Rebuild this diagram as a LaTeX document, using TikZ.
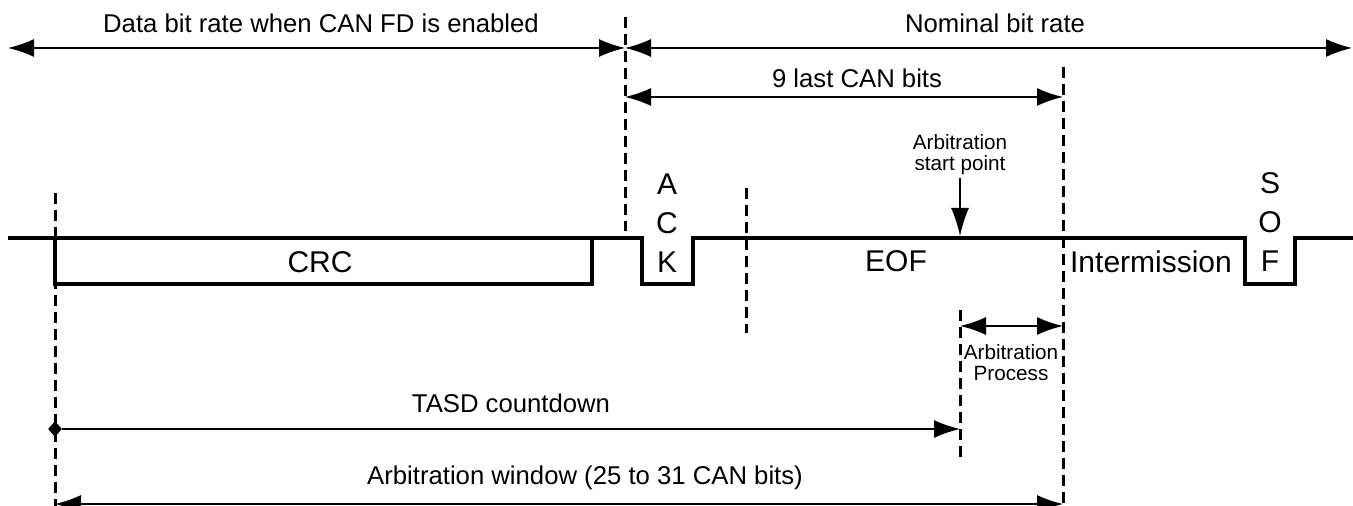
\documentclass[tikz,border=0pt]{standalone}
\usepackage{fontspec}
\setmainfont{Liberation Sans}
\usetikzlibrary{arrows.meta,shapes.geometric}

\begin{document}
\begin{tikzpicture}[x=.5pt,y=-.5pt,>={Latex[length=13pt,width=9pt]}]
      \tikzstyle{lbl}=[font=\fontsize{12.85}{15}\selectfont,anchor=base,inner sep=0pt]
      \tikzstyle{field}=[font=\fontsize{15}{19.5}\selectfont,align=center,inner sep=0pt]
      \tikzstyle{small}=[font=\fontsize{10.35}{10.5}\selectfont,align=center,inner sep=1.5pt]
      \tikzstyle{guide}=[line width=1.5pt,dash pattern=on 5.5pt off 3pt]
      \tikzstyle{dim}=[line width=.8pt,<->]
      \useasboundingbox (0,0) rectangle (1353,506);
      % guide lines
      \coordinate (crcT) at (55,193);   \coordinate (crcB) at (55,506);
      \coordinate (fdT) at (625,17);    \coordinate (fdB) at (625,231);
      \coordinate (ackT) at (746,188);  \coordinate (ackB) at (746,333);
      \coordinate (arbT) at (960,310);  \coordinate (arbB) at (960,462);
      \coordinate (eofT) at (1063,67);  \coordinate (eofB) at (1063,506);
      \draw[guide] (crcT) -- (crcB);
      \draw[guide] (fdT) -- (fdB);
      \draw[guide] (ackT) -- (ackB);
      \draw[guide] (arbT) -- (arbB);
      \draw[guide] (eofT) -- (eofB);
      % bus signal
      \draw[line width=1.6pt] (8,238) -- (642,238) -- (642,284) -- (693,284) -- (693,238)
            -- (1245,238) -- (1245,284) -- (1295,284) -- (1295,238) -- (1353,238);
      \draw[line width=1.6pt] (55,238) rectangle (592,284);
      \node[field] (crc) at (320,262) {CRC};
      \node[field] (ack) at (667,223) {A\\C\\K};
      \node[field] (eof) at (896,261) {EOF};
      \node[field] (im) at (1151,262) {Intermission};
      \node[field] (sof) at (1270,222) {S\\O\\F};
      % rates
      \node[lbl] (dbr) at (321,33) {Data bit rate when CAN FD is enabled};
      \node[lbl] (nbr) at (995,33) {Nominal bit rate};
      \node[lbl] (last) at (857,88) {9 last CAN bits};
      \draw[dim] (8,48) -- (fdT |- 0,48);
      \draw[dim] (fdT |- 0,48) -- (1352,48);
      \draw[dim] (fdT |- 0,97) -- (eofT |- 0,97);
      % arbitration
      \node[small,anchor=south] (asp) at (960,178) {Arbitration\\start point};
      \draw[line width=.8pt,->,>={Latex[length=14pt,width=9pt]}] (asp) -- (960,236);
      \node[small] (ap) at (1011,363) {Arbitration\\Process};
      \draw[dim] (arbT |- 0,326) -- (eofT |- 0,326);
      \node[lbl] (tasd) at (511,413) {TASD countdown};
      \node[diamond,fill,inner sep=0pt,minimum width=7pt,minimum height=8pt] (dia) at (55,429) {};
      \draw[line width=.8pt,->] (dia) -- (arbT |- 0,429);
      \node[lbl] (win) at (585,485) {Arbitration window (25 to 31 CAN bits)};
      \draw[dim] (crcT |- 0,504) -- (eofT |- 0,504);
\end{tikzpicture}
\end{document}
